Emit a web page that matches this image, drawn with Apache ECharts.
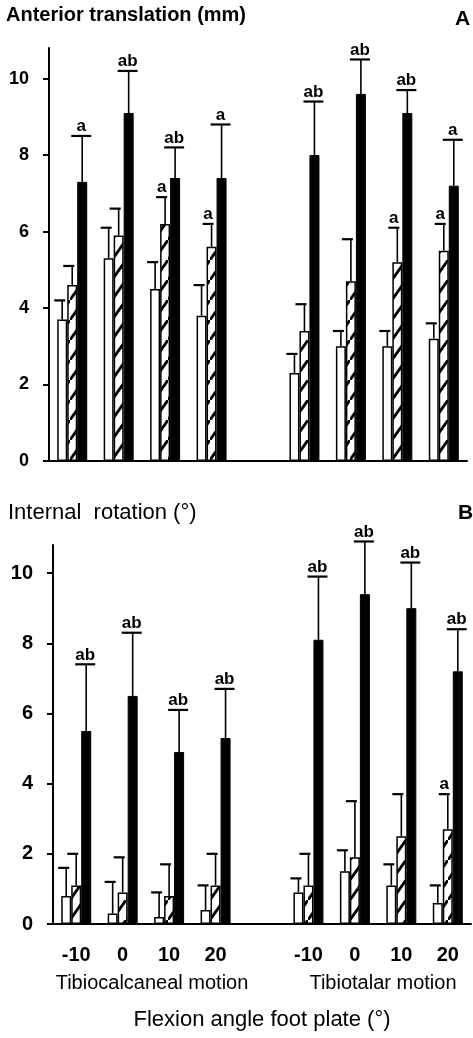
<!DOCTYPE html>
<html><head><meta charset="utf-8">
<script src="https://cdn.jsdelivr.net/npm/echarts@6/dist/echarts.min.js"></script>
<style>html,body{margin:0;padding:0;background:#fff}#c{width:473px;height:1038px}</style>
</head><body><div id="c"></div>
<script>
// ---- data ----
const categories = ['-10', '0', '10', '20', '', '-10', '0', '10', '20'];
const yTicks = [0, 2, 4, 6, 8, 10];

// Panel A: anterior translation (mm)
const aWhite    = [3.7, 5.3, 4.5, 3.8, null, 2.3, 3.0, 3.0, 3.2];
const aWhiteUp  = [4.2, 6.1, 5.2, 4.6, null, 2.8, 3.4, 3.4, 3.6];
const aHatch    = [4.6, 5.9, 6.2, 5.6, null, 3.4, 4.7, 5.2, 5.5];
const aHatchUp  = [5.1, 6.6, 6.9, 6.2, null, 4.1, 5.8, 6.1, 6.2];
const aBlack    = [7.3, 9.1, 7.4, 7.4, null, 8.0, 9.6, 9.1, 7.2];
const aBlackUp  = [8.5, 10.2, 8.2, 8.8, null, 9.4, 10.5, 9.7, 8.4];
const aHatchSig = ['', '', 'a', 'a', '', '', '', 'a', 'a'];
const aBlackSig = ['a', 'ab', 'ab', 'a', '', 'ab', 'ab', 'ab', 'a'];

// Panel B: internal rotation (deg)
const bWhite    = [0.8, 0.3, 0.2, 0.4, null, 0.9, 1.5, 1.1, 0.6];
const bWhiteUp  = [1.6, 1.2, 0.9, 1.1, null, 1.3, 2.1, 1.7, 1.1];
const bHatch    = [1.1, 0.9, 0.8, 1.1, null, 1.1, 1.9, 2.5, 2.7];
const bHatchUp  = [2.0, 1.9, 1.7, 2.0, null, 2.0, 3.5, 3.7, 3.7];
const bBlack    = [5.5, 6.5, 4.9, 5.3, null, 8.1, 9.4, 9.0, 7.2];
const bBlackUp  = [7.4, 8.3, 6.1, 6.7, null, 9.9, 10.9, 10.3, 8.4];
const bHatchSig = ['', '', '', '', '', '', '', '', 'a'];
const bBlackSig = ['ab', 'ab', 'ab', 'ab', '', 'ab', 'ab', 'ab', 'ab'];

// ---- chart ----
const FONT = "'Liberation Sans', Arial, sans-serif";
function hatchCanvas() {
  const w = 14, h = 20;
  const c = document.createElement('canvas'); c.width = w; c.height = h;
  const g = c.getContext('2d');
  g.fillStyle = '#fff'; g.fillRect(0, 0, w, h);
  g.strokeStyle = '#000'; g.lineWidth = 2.8;
  [[0, 0], [-w, h], [w, -h]].forEach(([dx, dy]) => {
    g.beginPath(); g.moveTo(dx, h + dy); g.lineTo(w + dx, dy); g.stroke();
  });
  return c;
}
const hatch = { image: hatchCanvas(), repeat: 'repeat' };

function errData(mean, up) {
  const d = [];
  mean.forEach((m, i) => { if (m != null) d.push([i, m, up[i]]); });
  return d;
}
function errRender(offset, capL, capR, sig) {
  return function (params, api) {
    const i = api.value(0);
    const b = api.coord([i, api.value(1)]);
    const t = api.coord([i, api.value(2)]);
    const x = b[0] + offset;
    const ch = [
      { type: 'line', shape: { x1: x, y1: b[1], x2: x, y2: t[1] }, style: { stroke: '#000', lineWidth: 1.6 } },
      { type: 'line', shape: { x1: x - capL, y1: t[1], x2: x + capR, y2: t[1] }, style: { stroke: '#000', lineWidth: 2.2 } }
    ];
    const lab = sig ? sig[i] : '';
    if (lab) ch.push({ type: 'text', style: { text: lab, x: x + (capR - capL) / 2, y: t[1] - 1, align: 'center', verticalAlign: 'bottom', font: 'bold 17px ' + FONT, fill: '#000' } });
    return { type: 'group', children: ch };
  };
}
function panel(k, white, whiteUp, hatchV, hatchUp, black, blackUp, hSig, bSig) {
  const barBase = { type: 'bar', xAxisIndex: k, yAxisIndex: k, barWidth: 10, barGap: '0%', z: 2 };
  return [
    Object.assign({}, barBase, { data: white, itemStyle: { color: '#fff', borderColor: '#000', borderWidth: 1.5 } }),
    Object.assign({}, barBase, { data: hatchV, itemStyle: { color: hatch, borderColor: '#000', borderWidth: 1.5 } }),
    Object.assign({}, barBase, { data: black, itemStyle: { color: '#000', borderColor: '#000', borderWidth: 1 } }),
    { type: 'custom', xAxisIndex: k, yAxisIndex: k, z: 5, data: errData(white, whiteUp), encode: { x: 0, y: [1, 2] }, renderItem: errRender(-10, 8, 3, null) },
    { type: 'custom', xAxisIndex: k, yAxisIndex: k, z: 5, data: errData(hatchV, hatchUp), encode: { x: 0, y: [1, 2] }, renderItem: errRender(0, 9, 2, hSig) },
    { type: 'custom', xAxisIndex: k, yAxisIndex: k, z: 5, data: errData(black, blackUp), encode: { x: 0, y: [1, 2] }, renderItem: errRender(10, 11, 9, bSig) }
  ];
}
function yAx(k, fs) {
  return {
    type: 'value', gridIndex: k, min: 0, max: 10.8, interval: 2,
    axisLine: { show: true, lineStyle: { color: '#000', width: 2 } },
    axisTick: { show: true, length: 6, lineStyle: { color: '#000', width: 2 }, customValues: yTicks },
    axisLabel: { color: '#000', fontFamily: FONT, fontWeight: 'bold', fontSize: fs, margin: 20, customValues: yTicks },
    splitLine: { show: false }
  };
}
function xAx(k, showLabel) {
  return {
    type: 'category', gridIndex: k, data: categories,
    axisLine: { show: true, lineStyle: { color: '#000', width: 2 } },
    axisTick: { show: false },
    axisLabel: { show: showLabel, color: '#000', fontFamily: FONT, fontWeight: 'bold', fontSize: 20, margin: 21, interval: 0 }
  };
}
const chart = echarts.init(document.getElementById('c'), null, { renderer: 'canvas' });
chart.setOption({
  animation: false,
  backgroundColor: '#fff',
  grid: [
    { left: 49, top: 48, width: 418, height: 413 },
    { left: 53, top: 545, width: 418, height: 379 }
  ],
  xAxis: [xAx(0, false), xAx(1, true)],
  yAxis: [yAx(0, 18), yAx(1, 20)],
  series: [].concat(
    panel(0, aWhite, aWhiteUp, aHatch, aHatchUp, aBlack, aBlackUp, aHatchSig, aBlackSig),
    panel(1, bWhite, bWhiteUp, bHatch, bHatchUp, bBlack, bBlackUp, bHatchSig, bBlackSig)
  ),
  graphic: [
    { type: 'text', left: 6, top: 5, style: { text: 'Anterior translation (mm)', font: 'bold 20px ' + FONT, fill: '#000' } },
    { type: 'text', left: 455, top: 9, style: { text: 'A', font: 'bold 21px ' + FONT, fill: '#000' } },
    { type: 'text', left: 8, top: 502, style: { text: 'Internal  rotation (°)', font: '22px ' + FONT, fill: '#000' } },
    { type: 'text', left: 458, top: 503, style: { text: 'B', font: 'bold 21px ' + FONT, fill: '#000' } },
    { type: 'text', x: 152, y: 983, style: { text: 'Tibiocalcaneal motion', align: 'center', verticalAlign: 'middle', font: '20px ' + FONT, fill: '#000' } },
    { type: 'text', x: 383, y: 983, style: { text: 'Tibiotalar motion', align: 'center', verticalAlign: 'middle', font: '20px ' + FONT, fill: '#000' } },
    { type: 'text', x: 262, y: 1020, style: { text: 'Flexion angle foot plate (°)', align: 'center', verticalAlign: 'middle', font: '22px ' + FONT, fill: '#000' } }
  ]
});
</script></body></html>
